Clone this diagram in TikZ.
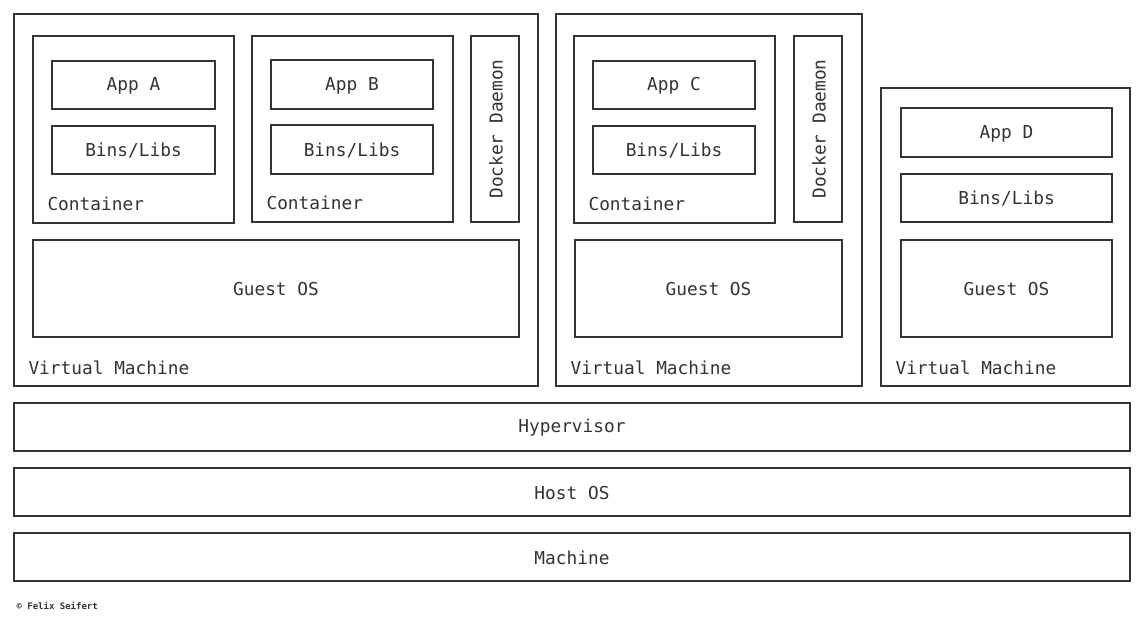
\documentclass[tikz,border=0pt]{standalone}
\usepackage{fontspec}
\setmainfont{DejaVu Sans Mono}
\begin{document}
\begin{tikzpicture}[x=1pt,y=-1pt,
  box/.style={draw=black!80,line width=2pt},
  lbl/.style={font=\fontsize{17.8}{20}\selectfont,text=black!80},
  cl/.style={lbl,anchor=base west}]
\useasboundingbox (0,0) rectangle (1144,619);
\newcommand\bx[6]{\draw[box] (#2,#3) rectangle (#4,#5); \node[lbl] (#1) at ({(#2+#4)/2},{(#3+#5)/2+1}) {#6};}
% VM1
\draw[box] (14,14) rectangle (538,386);
\draw[box] (33,36) rectangle (234,223);
\bx{appa}{52}{61}{215}{109}{App A}
\bx{bla}{52}{126}{215}{174}{Bins/Libs}
\node[cl] (ca) at (44,210) {Container};
\draw[box] (252,36) rectangle (453,222);
\bx{appb}{271}{60}{433}{109}{App B}
\bx{blb}{271}{125}{433}{174}{Bins/Libs}
\node[cl] (cb) at (263,209) {Container};
\draw[box] (471,36) rectangle (519,222);
\node[lbl,rotate=90] (d1) at (496,129) {Docker Daemon};
\bx{g1}{33}{240}{519}{337}{Guest OS}
\node[cl] (v1) at (25,374) {Virtual Machine};
% VM2
\draw[box] (556,14) rectangle (862,386);
\draw[box] (574,36) rectangle (775,223);
\bx{appc}{593}{61}{755}{109}{App C}
\bx{blc}{593}{126}{755}{174}{Bins/Libs}
\node[cl] (cc) at (585,210) {Container};
\draw[box] (794,36) rectangle (842,222);
\node[lbl,rotate=90] (d2) at (819,129) {Docker Daemon};
\bx{g2}{575}{240}{842}{337}{Guest OS}
\node[cl] (v2) at (567,374) {Virtual Machine};
% VM3
\draw[box] (881,88) rectangle (1130,386);
\bx{appd}{901}{108}{1112}{157}{App D}
\bx{bld}{901}{174}{1112}{222}{Bins/Libs}
\bx{g3}{901}{240}{1112}{337}{Guest OS}
\node[cl] (v3) at (892,374) {Virtual Machine};
% base
\bx{hyp}{14}{403}{1130}{451}{Hypervisor}
\bx{host}{14}{468}{1130}{516}{Host OS}
\bx{mach}{14}{533}{1130}{581}{Machine}
\node[anchor=base west,font=\fontsize{9}{10}\selectfont\bfseries,text=black!80] (cp) at (13,609) {© Felix Seifert};
\end{tikzpicture}
\end{document}
